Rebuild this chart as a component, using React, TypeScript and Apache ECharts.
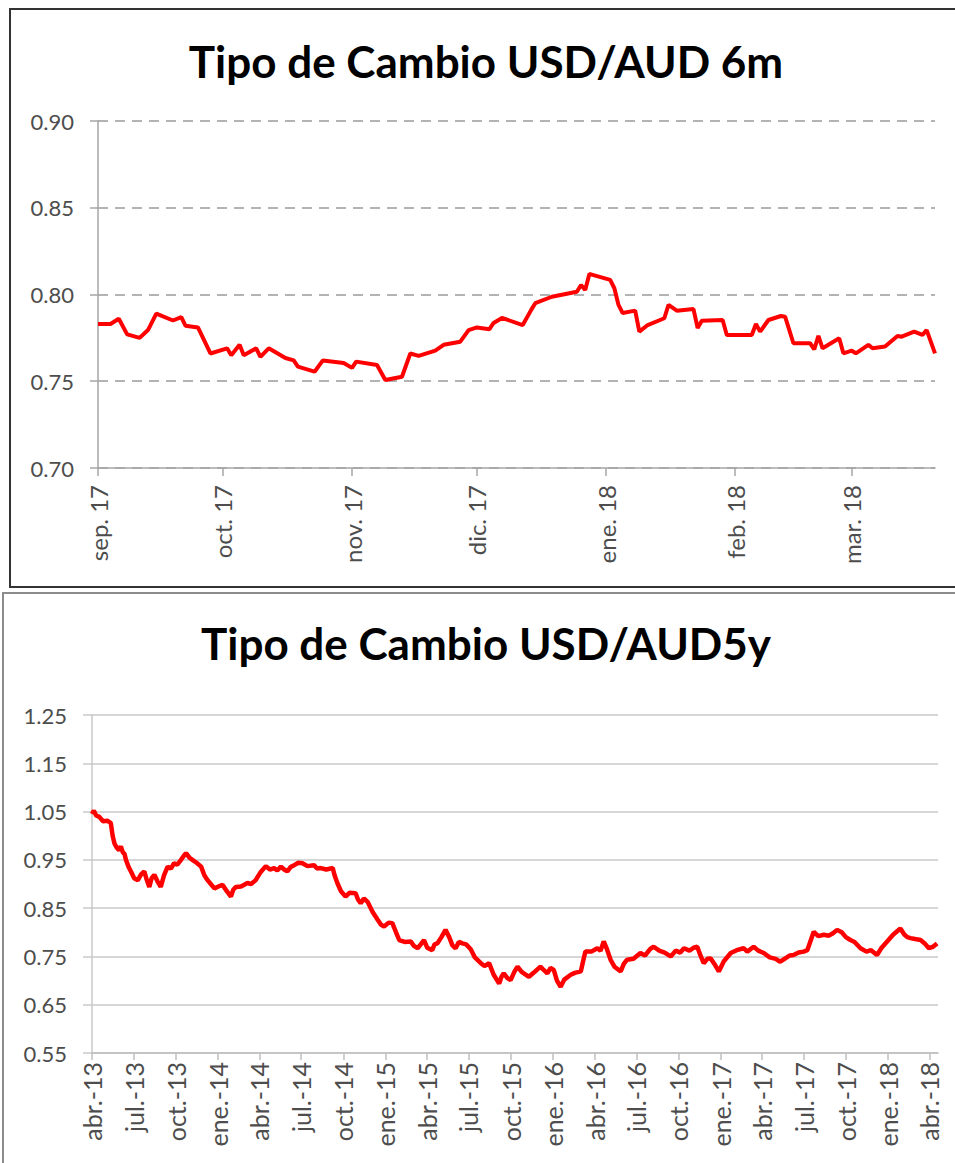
import React, { useEffect, useRef } from "react";
import * as echarts from "echarts";

const MONTHS = ["ene.", "feb.", "mar.", "abr.", "may.", "jun.", "jul.", "ago.", "sep.", "oct.", "nov.", "dic."];

const title6m = "Tipo de Cambio USD/AUD 6m";
const title5y = "Tipo de Cambio USD/AUD5y";

// axis ranges (first and last day shown on each date axis)
const range6m = ["2017-09-01", "2018-03-21"];
const range5y = ["2013-04-01", "2018-04-20"];

// 6-month series
const dates6m = [
  "2017-09-01", "2017-09-04", "2017-09-06", "2017-09-08", "2017-09-11", "2017-09-13", "2017-09-15",
  "2017-09-19", "2017-09-21", "2017-09-22", "2017-09-25", "2017-09-28", "2017-10-02", "2017-10-03",
  "2017-10-05", "2017-10-06", "2017-10-09", "2017-10-10", "2017-10-12", "2017-10-16", "2017-10-18",
  "2017-10-19", "2017-10-23", "2017-10-25", "2017-10-30", "2017-11-01", "2017-11-02", "2017-11-07",
  "2017-11-09", "2017-11-13", "2017-11-15", "2017-11-17", "2017-11-21", "2017-11-23", "2017-11-27",
  "2017-11-29", "2017-12-01", "2017-12-04", "2017-12-05", "2017-12-07", "2017-12-12", "2017-12-14",
  "2017-12-15", "2017-12-19", "2017-12-25", "2017-12-26", "2017-12-27", "2017-12-28", "2017-12-29",
  "2018-01-02", "2018-01-03", "2018-01-04", "2018-01-05", "2018-01-08", "2018-01-09", "2018-01-11",
  "2018-01-15", "2018-01-16", "2018-01-18", "2018-01-22", "2018-01-23", "2018-01-24", "2018-01-29",
  "2018-01-30", "2018-02-05", "2018-02-06", "2018-02-07", "2018-02-09", "2018-02-12", "2018-02-13",
  "2018-02-15", "2018-02-19", "2018-02-20", "2018-02-21", "2018-02-22", "2018-02-26", "2018-02-27",
  "2018-03-01", "2018-03-02", "2018-03-05", "2018-03-06", "2018-03-09", "2018-03-12", "2018-03-13",
  "2018-03-16", "2018-03-18", "2018-03-19", "2018-03-21",
];
const values6m = [
  0.783, 0.783, 0.786, 0.777, 0.775, 0.7795, 0.789,
  0.785, 0.787, 0.782, 0.781, 0.766, 0.769, 0.765,
  0.771, 0.765, 0.769, 0.764, 0.769, 0.7634, 0.762,
  0.7584, 0.7555, 0.762, 0.7605, 0.7577, 0.7613, 0.7594,
  0.7507, 0.7526, 0.766, 0.7646, 0.7676, 0.771, 0.7728,
  0.7795, 0.781, 0.78, 0.7836, 0.7865, 0.7824, 0.791,
  0.795, 0.7987, 0.8016, 0.8055, 0.8026, 0.8118, 0.8112,
  0.8084, 0.8036, 0.794, 0.7893, 0.7907, 0.7786, 0.7824,
  0.7863, 0.794, 0.7907, 0.7916, 0.7807, 0.7849, 0.7853,
  0.7767, 0.7767, 0.783, 0.7786, 0.7853, 0.7876, 0.7872,
  0.7719, 0.7719, 0.7684, 0.7761, 0.769, 0.7748, 0.7661,
  0.7676, 0.7661, 0.771, 0.769, 0.77, 0.7761, 0.7757,
  0.7786, 0.7767, 0.7795, 0.7661,
];

// 5-year series
const dates5y = [
  "2013-04-01", "2013-04-05", "2013-04-10", "2013-04-17", "2013-04-25", "2013-05-05", "2013-05-12",
  "2013-05-16", "2013-05-20", "2013-05-25", "2013-05-30", "2013-06-03", "2013-06-07", "2013-06-11",
  "2013-06-14", "2013-06-20", "2013-06-25", "2013-07-02", "2013-07-10", "2013-07-17", "2013-07-24",
  "2013-07-29", "2013-08-04", "2013-08-09", "2013-08-15", "2013-08-22", "2013-08-29", "2013-09-05",
  "2013-09-13", "2013-09-20", "2013-09-27", "2013-10-04", "2013-10-12", "2013-10-18", "2013-10-23",
  "2013-10-30", "2013-11-06", "2013-11-15", "2013-11-25", "2013-12-02", "2013-12-09", "2013-12-16",
  "2013-12-24", "2014-01-02", "2014-01-11", "2014-01-20", "2014-01-29", "2014-02-03", "2014-02-09",
  "2014-02-20", "2014-03-06", "2014-03-14", "2014-03-24", "2014-04-04", "2014-04-15", "2014-04-24",
  "2014-05-03", "2014-05-10", "2014-05-18", "2014-05-25", "2014-06-01", "2014-06-08", "2014-06-16",
  "2014-06-25", "2014-07-04", "2014-07-15", "2014-07-29", "2014-08-05", "2014-08-13", "2014-08-25",
  "2014-09-08", "2014-09-12", "2014-09-18", "2014-09-26", "2014-10-06", "2014-10-15", "2014-10-28",
  "2014-11-02", "2014-11-08", "2014-11-15", "2014-11-23", "2014-12-04", "2014-12-15", "2014-12-22",
  "2014-12-29", "2015-01-08", "2015-01-16", "2015-01-24", "2015-01-31", "2015-02-12", "2015-02-25",
  "2015-03-04", "2015-03-12", "2015-03-19", "2015-03-26", "2015-04-02", "2015-04-13", "2015-04-18",
  "2015-04-24", "2015-05-03", "2015-05-12", "2015-05-20", "2015-05-27", "2015-06-03", "2015-06-10",
  "2015-06-18", "2015-06-26", "2015-07-06", "2015-07-15", "2015-07-28", "2015-08-05", "2015-08-15",
  "2015-08-25", "2015-09-06", "2015-09-11", "2015-09-16", "2015-09-24", "2015-10-01", "2015-10-09",
  "2015-10-16", "2015-10-25", "2015-11-03", "2015-11-10", "2015-11-20", "2015-12-05", "2015-12-12",
  "2015-12-20", "2015-12-27", "2016-01-03", "2016-01-10", "2016-01-18", "2016-01-26", "2016-02-09",
  "2016-02-18", "2016-03-02", "2016-03-07", "2016-03-12", "2016-03-25", "2016-04-07", "2016-04-14",
  "2016-04-21", "2016-04-28", "2016-05-06", "2016-05-15", "2016-05-28", "2016-06-04", "2016-06-11",
  "2016-06-25", "2016-07-10", "2016-07-20", "2016-08-01", "2016-08-08", "2016-08-20", "2016-09-01",
  "2016-09-14", "2016-09-25", "2016-10-05", "2016-10-13", "2016-10-25", "2016-11-03", "2016-11-11",
  "2016-11-18", "2016-11-25", "2016-12-03", "2016-12-10", "2016-12-18", "2016-12-28", "2017-01-08",
  "2017-01-23", "2017-02-05", "2017-02-20", "2017-02-28", "2017-03-14", "2017-03-24", "2017-04-05",
  "2017-04-18", "2017-05-01", "2017-05-11", "2017-05-22", "2017-06-01", "2017-06-09", "2017-06-20",
  "2017-07-01", "2017-07-09", "2017-07-16", "2017-07-23", "2017-08-02", "2017-08-14", "2017-08-25",
  "2017-09-03", "2017-09-12", "2017-09-22", "2017-10-01", "2017-10-11", "2017-10-20", "2017-11-02",
  "2017-11-15", "2017-11-25", "2017-12-08", "2017-12-18", "2018-01-02", "2018-01-12", "2018-01-28",
  "2018-02-05", "2018-02-12", "2018-02-19", "2018-03-01", "2018-03-13", "2018-03-22", "2018-03-31",
  "2018-04-09", "2018-04-18",
];
const values5y = [
  1.045, 1.052, 1.042, 1.039, 1.03, 1.031, 1.026,
  1.0, 0.984, 0.975, 0.97, 0.978, 0.966, 0.962,
  0.95, 0.935, 0.926, 0.912, 0.908, 0.92, 0.926,
  0.91, 0.894, 0.912, 0.919, 0.905, 0.894, 0.918,
  0.936, 0.932, 0.943, 0.94, 0.95, 0.958, 0.964,
  0.955, 0.95, 0.944, 0.936, 0.918, 0.908, 0.9,
  0.891, 0.895, 0.898, 0.885, 0.874, 0.888, 0.894,
  0.895, 0.902, 0.9, 0.908, 0.925, 0.937, 0.93,
  0.933, 0.928, 0.936, 0.93, 0.926, 0.935, 0.939,
  0.944, 0.943, 0.937, 0.939, 0.932, 0.933, 0.93,
  0.933, 0.918, 0.902, 0.885, 0.874, 0.882, 0.881,
  0.868, 0.86, 0.87, 0.863, 0.842, 0.826, 0.816,
  0.812, 0.82, 0.819, 0.8, 0.784, 0.78, 0.781,
  0.772, 0.767, 0.775, 0.784, 0.768, 0.763, 0.775,
  0.777, 0.79, 0.805, 0.79, 0.773, 0.767, 0.78,
  0.777, 0.775, 0.765, 0.748, 0.736, 0.73, 0.736,
  0.712, 0.694, 0.708, 0.715, 0.705, 0.701, 0.718,
  0.729, 0.718, 0.712, 0.708, 0.716, 0.729, 0.722,
  0.715, 0.726, 0.722, 0.7, 0.687, 0.702, 0.712,
  0.716, 0.719, 0.74, 0.76, 0.76, 0.767, 0.762,
  0.781, 0.765, 0.743, 0.728, 0.719, 0.735, 0.743,
  0.745, 0.757, 0.752, 0.766, 0.77, 0.762, 0.758,
  0.75, 0.762, 0.758, 0.767, 0.762, 0.768, 0.77,
  0.752, 0.736, 0.745, 0.746, 0.735, 0.719, 0.74,
  0.757, 0.763, 0.767, 0.76, 0.77, 0.762, 0.757,
  0.748, 0.745, 0.739, 0.746, 0.752, 0.753, 0.758,
  0.76, 0.763, 0.782, 0.801, 0.792, 0.795, 0.793,
  0.798, 0.805, 0.8, 0.79, 0.784, 0.78, 0.767,
  0.76, 0.763, 0.753, 0.768, 0.784, 0.795, 0.808,
  0.796, 0.79, 0.788, 0.786, 0.784, 0.777, 0.767,
  0.77, 0.777,
];

function dayList(start: string, end: string): string[] {
  const toUTC = (s: string) => Date.UTC(+s.slice(0, 4), +s.slice(5, 7) - 1, +s.slice(8, 10));
  const out: string[] = [];
  for (let t = toUTC(start); t <= toUTC(end); t += 86400000) {
    out.push(new Date(t).toISOString().slice(0, 10));
  }
  return out;
}

function alignData(cats: string[], dates: string[], values: number[]) {
  const m = new Map<string, number>();
  dates.forEach((d, i) => m.set(d, values[i]));
  return cats.map((c) => (m.has(c) ? (m.get(c) as number) : null));
}

const FONT = "Lato";
const LABEL_COLOR = "#4d4d4d";

export default function App() {
  const ref = useRef<HTMLDivElement>(null);

  useEffect(() => {
    if (!ref.current) return;
    const chart = echarts.init(ref.current, undefined, { renderer: "svg" });

    const cats6m = dayList(range6m[0], range6m[1]);
    const cats5y = dayList(range5y[0], range5y[1]);

    const isMonthStart = (_i: number, v: string) => v.slice(8, 10) === "01";
    const isQuarterStart = (_i: number, v: string) =>
      v.slice(8, 10) === "01" && ["01", "04", "07", "10"].includes(v.slice(5, 7));

    const fmt6m = (v: string) => `${MONTHS[+v.slice(5, 7) - 1]} ${v.slice(2, 4)}`;
    const fmt5y = (v: string) => `${MONTHS[+v.slice(5, 7) - 1]}-${v.slice(2, 4)}`;

    const yLabel = { fontFamily: FONT, fontSize: 22, color: LABEL_COLOR };
    const xLabel = { fontFamily: FONT, fontSize: 24, color: LABEL_COLOR };

    chart.setOption({
      animation: false,
      backgroundColor: "#ffffff",
      title: [
        {
          text: title6m,
          left: 486,
          top: 36,
          textAlign: "center",
          padding: 0,
          textStyle: { fontFamily: FONT, fontWeight: "bold", fontSize: 44, lineHeight: 50, color: "#000" },
        },
        {
          text: title5y,
          left: 486,
          top: 618,
          textAlign: "center",
          padding: 0,
          textStyle: { fontFamily: FONT, fontWeight: "bold", fontSize: 44, lineHeight: 50, color: "#000" },
        },
      ],
      graphic: [
        {
          type: "rect",
          shape: { x: 10, y: 9, width: 970, height: 578 },
          style: { fill: "none", stroke: "#333333", lineWidth: 2 },
          silent: true,
        },
        {
          type: "rect",
          shape: { x: 3, y: 593, width: 980, height: 600 },
          style: { fill: "none", stroke: "#8c8c8c", lineWidth: 2 },
          silent: true,
        },
      ],
      grid: [
        { left: 98, top: 121, width: 837, height: 347 },
        { left: 92, top: 715, width: 846, height: 338 },
      ],
      xAxis: [
        {
          type: "category",
          gridIndex: 0,
          data: cats6m,
          boundaryGap: false,
          axisLine: { show: true, lineStyle: { color: "#a6a6a6", width: 1.5 } },
          axisTick: { show: true, interval: isMonthStart, length: 8, lineStyle: { color: "#a6a6a6", width: 1.5 } },
          axisLabel: { ...xLabel, interval: isMonthStart, rotate: 90, margin: 17, formatter: fmt6m },
          splitLine: { show: false },
        },
        {
          type: "category",
          gridIndex: 1,
          data: cats5y,
          boundaryGap: false,
          axisLine: { show: true, lineStyle: { color: "#bfbfbf", width: 1.5 } },
          axisTick: { show: true, interval: isQuarterStart, length: 7, lineStyle: { color: "#bfbfbf", width: 1.5 } },
          axisLabel: { ...xLabel, fontSize: 25, interval: isQuarterStart, rotate: 90, margin: 9, formatter: fmt5y },
          splitLine: { show: false },
        },
      ],
      yAxis: [
        {
          type: "value",
          gridIndex: 0,
          min: 0.7,
          max: 0.9,
          interval: 0.05,
          axisLine: { show: true, lineStyle: { color: "#a6a6a6", width: 1.5 } },
          axisTick: { show: true, length: 8, lineStyle: { color: "#a6a6a6", width: 1.5 } },
          axisLabel: { ...yLabel, margin: 24, formatter: (v: number) => v.toFixed(2) },
          splitLine: { show: true, lineStyle: { color: "#9a9a9a", width: 1.5, type: [10, 7] } },
        },
        {
          type: "value",
          gridIndex: 1,
          min: 0.55,
          max: 1.25,
          interval: 0.1,
          axisLine: { show: true, lineStyle: { color: "#c8c8c8", width: 1.5 } },
          axisTick: { show: true, length: 9, lineStyle: { color: "#c8c8c8", width: 1.5 } },
          axisLabel: { ...yLabel, margin: 25, formatter: (v: number) => v.toFixed(2) },
          splitLine: { show: true, lineStyle: { color: "#c8c8c8", width: 1.5 } },
        },
      ],
      series: [
        {
          type: "line",
          xAxisIndex: 0,
          yAxisIndex: 0,
          data: alignData(cats6m, dates6m, values6m),
          connectNulls: true,
          showSymbol: false,
          lineStyle: { color: "#ff0000", width: 4 },
          itemStyle: { color: "#ff0000" },
        },
        {
          type: "line",
          xAxisIndex: 1,
          yAxisIndex: 1,
          data: alignData(cats5y, dates5y, values5y),
          connectNulls: true,
          showSymbol: false,
          lineStyle: { color: "#ff0000", width: 4.5 },
          itemStyle: { color: "#ff0000" },
        },
      ],
    });

    return () => chart.dispose();
  }, []);

  return (
    <div
      ref={ref}
      style={{ position: "absolute", left: 0, top: 0, width: 955, height: 1163, background: "#fff" }}
    />
  );
}
